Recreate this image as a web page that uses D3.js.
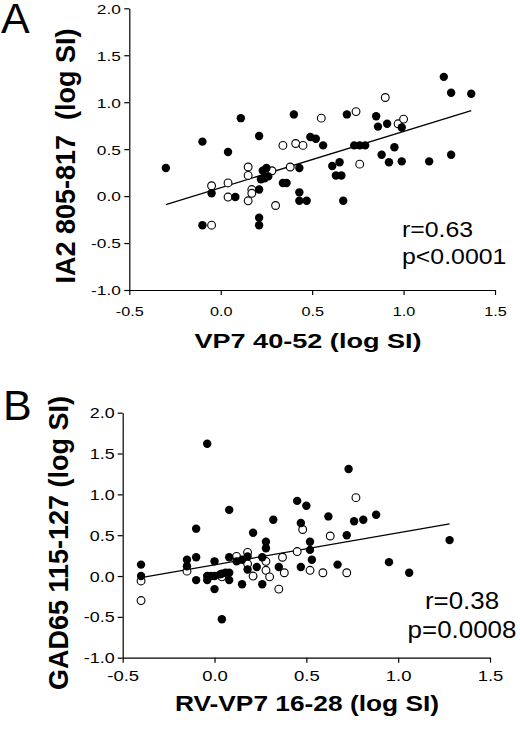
<!DOCTYPE html>
<html>
<head>
<meta charset="utf-8">
<script src="https://cdn.jsdelivr.net/npm/d3@7"></script>
<style>
  body { margin: 0; background: #fff; }
  svg { display: block; }
  text { font-family: "Liberation Sans", Arial, sans-serif; }
</style>
</head>
<body>
<svg id="chart" width="520" height="729"></svg>
<script>
// ── data ──
const xTicks = [-0.5, 0.0, 0.5, 1.0, 1.5];
const yTicks = [-1.0, -0.5, 0.0, 0.5, 1.0, 1.5, 2.0];

// Panel A: VP7 40-52 vs IA2 805-817
const aFilled = [
  [-0.30, 0.30], [-0.10, 0.58], [0.04, 0.47], [0.11, 0.83], [0.21, 0.64], [0.40, 0.87],
  [-0.05, 0.03], [0.08, -0.01], [-0.10, -0.31], [0.21, -0.23], [0.21, -0.31], [0.21, 0.07],
  [0.23, 0.27], [0.25, 0.30], [0.22, 0.18], [0.26, 0.21], [0.24, 0.19], [0.34, 0.14],
  [0.36, 0.14], [0.43, 0.30], [0.43, 0.04], [0.43, -0.05], [0.47, -0.05], [0.49, 0.63],
  [0.52, 0.61], [0.56, 0.54], [0.61, 0.32], [0.65, 0.36], [0.63, 0.22], [0.66, 0.22],
  [0.67, -0.05], [0.69, 0.87], [0.73, 0.54], [0.76, 0.54], [0.79, 0.54], [0.85, 0.85],
  [0.86, 0.74], [0.91, 0.77], [0.99, 0.73], [0.95, 0.52], [0.88, 0.44], [0.92, 0.36],
  [0.99, 0.37], [1.14, 0.37], [1.22, 1.27], [1.26, 1.10], [1.37, 1.09], [1.26, 0.44]
];
const aOpen = [
  [-0.05, 0.11], [0.04, 0.14], [0.04, -0.01], [-0.05, -0.31], [0.15, 0.31], [0.15, 0.22],
  [0.15, -0.05], [0.17, 0.07], [0.17, 0.03], [0.28, 0.27], [0.30, -0.10], [0.34, 0.54],
  [0.38, 0.31], [0.41, 0.56], [0.45, 0.54], [0.55, 0.83], [0.74, 0.90], [0.76, 0.34],
  [0.90, 1.05], [0.97, 0.77], [1.00, 0.82]
];
const aFit = [[-0.30, -0.09], [1.37, 0.91]];
const aStats = ['r=0.63', 'p<0.0001'];

// Panel B: RV-VP7 16-28 vs GAD65 115-127
const bFilled = [
  [-0.40, 0.14], [-0.40, 0.00], [-0.15, 0.20], [-0.15, 0.12], [-0.10, 0.58], [-0.10, 0.23],
  [-0.10, -0.05], [-0.04, 1.62], [-0.04, 0.00], [-0.04, -0.05], [-0.02, 0.00], [0.00, 0.18],
  [0.00, 0.00], [0.00, -0.16], [0.03, 0.02], [0.04, -0.53], [0.04, 0.03], [0.06, 0.04],
  [0.08, 0.81], [0.08, 0.23], [0.08, 0.04], [0.08, -0.05], [0.12, 0.18], [0.15, 0.20],
  [0.15, -0.10], [0.18, 0.08], [0.18, 0.24], [0.21, 0.53], [0.23, 0.11], [0.26, 0.23],
  [0.26, -0.10], [0.28, 0.42], [0.28, 0.34], [0.32, 0.69], [0.35, 0.11], [0.45, 0.92],
  [0.50, 0.86], [0.47, 0.65], [0.47, 0.11], [0.52, 0.42], [0.52, 0.32], [0.53, 0.20],
  [0.62, 0.73], [0.67, 0.14], [0.72, 0.50], [0.73, 1.31], [0.76, 0.67], [0.81, 0.69],
  [0.88, 0.75], [0.95, 0.17], [1.06, 0.04], [1.28, 0.44]
];
const bOpen = [
  [-0.40, -0.06], [-0.40, -0.30], [-0.15, 0.06], [0.04, -0.01], [0.12, 0.24], [0.18, 0.29],
  [0.18, 0.15], [0.21, 0.00], [0.28, 0.18], [0.28, 0.07], [0.30, -0.01], [0.35, -0.16],
  [0.37, 0.23], [0.38, 0.04], [0.45, 0.30], [0.48, 0.57], [0.52, 0.07], [0.59, 0.04],
  [0.63, 0.49], [0.72, 0.04], [0.77, 0.96]
];
const bFit = [[-0.40, -0.02], [1.28, 0.64]];
const bStats = ['r=0.38', 'p=0.0008'];

const svg = d3.select('#chart');
const fmt = d => d.toFixed(1);

function panel(cfg) {
  const x = d3.scaleLinear([-0.5, 1.5], [cfg.left, cfg.right]);
  const y = d3.scaleLinear([-1, 2], [cfg.bottom, cfg.top]);
  const g = svg.append('g');

  // y axis
  const ya = g.append('g')
    .attr('transform', `translate(${cfg.left},0)`)
    .call(d3.axisLeft(y).tickValues(yTicks).tickSize(5).tickSizeOuter(0).tickFormat(fmt))
    .attr('font-family', null).attr('font-size', cfg.tickFont);
  ya.selectAll('text')
    .attr('x', 0).attr('dy', '0.36em').attr('fill', '#000')
    .attr('transform', `translate(${-cfg.yLabGap},0) scale(${cfg.yTickSx},1)`);

  // x axis
  const xa = g.append('g')
    .attr('transform', `translate(0,${cfg.bottom})`)
    .call(d3.axisBottom(x).tickValues(xTicks).tickSize(5).tickSizeOuter(0).tickFormat(fmt))
    .attr('font-family', null).attr('font-size', cfg.tickFont);
  xa.selectAll('text')
    .attr('y', 0).attr('dy', 0).attr('fill', '#000')
    .attr('transform', `translate(0,${cfg.xLabGap}) scale(${cfg.xTickSx},1)`);

  g.selectAll('.domain, .tick line').attr('stroke', '#000').attr('stroke-width', 1.2);

  // regression line
  g.append('line')
    .attr('x1', x(cfg.fit[0][0])).attr('y1', y(cfg.fit[0][1]))
    .attr('x2', x(cfg.fit[1][0])).attr('y2', y(cfg.fit[1][1]))
    .attr('stroke', '#000').attr('stroke-width', 1.3);

  // points
  g.append('g').selectAll('circle').data(cfg.open).join('circle')
    .attr('cx', d => x(d[0])).attr('cy', d => y(d[1])).attr('r', 3.9)
    .attr('fill', '#fff').attr('stroke', '#000').attr('stroke-width', 1.1);
  g.append('g').selectAll('circle').data(cfg.filled).join('circle')
    .attr('cx', d => x(d[0])).attr('cy', d => y(d[1])).attr('r', 4.2)
    .attr('fill', '#000');

  // titles
  g.append('text')
    .attr('transform', `translate(${cfg.xTitle[0]},${cfg.xTitle[1]}) scale(${cfg.xTitleSx},1)`)
    .attr('text-anchor', 'middle').attr('font-weight', 'bold').attr('font-size', cfg.xTitleFont)
    .text(cfg.xLabel);

  g.append('text')
    .attr('transform', `translate(${cfg.yTitle[0]},${cfg.yTitle[1]}) rotate(-90)`)
    .attr('text-anchor', 'middle').attr('font-weight', 'bold').attr('font-size', 27)
    .style('white-space', 'pre')
    .text(cfg.yLabel);

  g.append('text')
    .attr('x', cfg.tag[0]).attr('y', cfg.tag[1])
    .attr('font-size', 43)
    .text(cfg.tagText);

  cfg.stats.forEach((s, i) => {
    g.append('text')
      .attr('transform', `translate(${cfg.statPos[0]},${cfg.statPos[1] + i * cfg.statStep}) scale(${cfg.statSx},1)`)
      .attr('text-anchor', cfg.statAnchor).attr('font-size', cfg.statFont)
      .text(s);
  });
}

panel({
  left: 129.3, right: 495, top: 8.3, bottom: 290,
  filled: aFilled, open: aOpen, fit: aFit, stats: aStats,
  tickFont: 13.5, yTickSx: 1.28, xTickSx: 1.2, yLabGap: 8.5, xLabGap: 26,
  xLabel: 'VP7 40-52 (log SI)', xTitle: [308, 348], xTitleFont: 21, xTitleSx: 1.29,
  yLabel: 'IA2 805-817  (log SI)', yTitle: [75, 156],
  tagText: 'A', tag: [1, 33],
  statPos: [402, 237], statStep: 27, statFont: 22, statSx: 1.13, statAnchor: 'start'
});

panel({
  left: 122.7, right: 490, top: 412.7, bottom: 657.7,
  filled: bFilled, open: bOpen, fit: bFit, stats: bStats,
  tickFont: 14, yTickSx: 1.28, xTickSx: 1.32, yLabGap: 8, xLabGap: 23,
  xLabel: 'RV-VP7 16-28 (log SI)', xTitle: [307, 710.5], xTitleFont: 22.5, xTitleSx: 1.17,
  yLabel: 'GAD65 115-127 (log SI)', yTitle: [68, 543],
  tagText: 'B', tag: [3, 420],
  statPos: [462, 609], statStep: 29, statFont: 24, statSx: 1.08, statAnchor: 'middle'
});
</script>
</body>
</html>
